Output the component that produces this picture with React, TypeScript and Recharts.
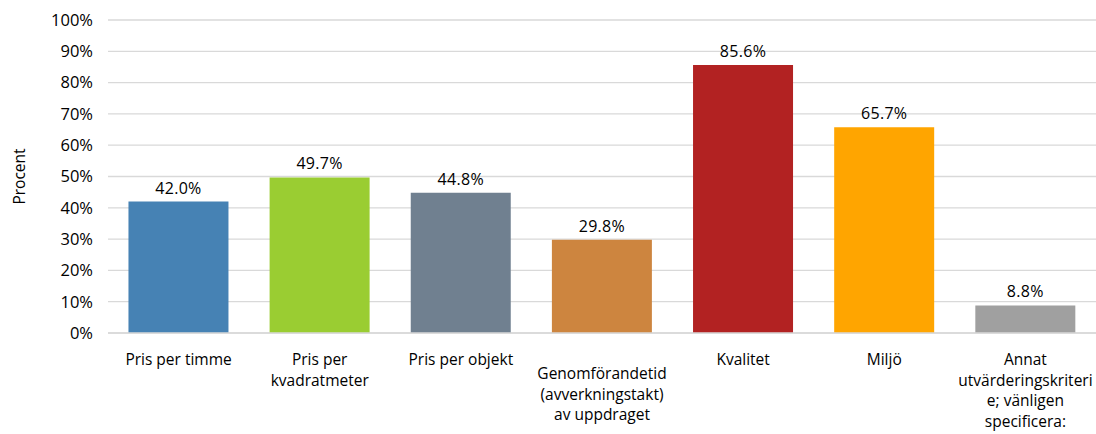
import { BarChart, Bar, XAxis, YAxis, CartesianGrid, Cell, LabelList } from "recharts";

const categories = [
  "Pris per timme",
  "Pris per\nkvadratmeter",
  "Pris per objekt",
  "Genomförandetid\n(avverkningstakt)\nav uppdraget",
  "Kvalitet",
  "Miljö",
  "Annat\nutvärderingskriteri\ne; vänligen\nspecificera:",
];
const values = [42.0, 49.7, 44.8, 29.8, 85.6, 65.7, 8.8];
const barColors = ["#4682B4", "#9ACD32", "#708090", "#CD853F", "#B22222", "#FFA500", "#A0A0A0"];
const yTicks = [0, 10, 20, 30, 40, 50, 60, 70, 80, 90, 100];

const data = categories.map((name, i) => ({ name, value: values[i] }));

const FONT = "'Open Sans', Lato, sans-serif";

function CategoryTick(props: any) {
  const { x, y, payload } = props;
  const lines = String(payload.value).split("\n");
  // the three-line label sits a bit lower than the others
  const shift = lines.length === 3 ? 14 : 0;
  return (
    <text x={x} y={y + shift} textAnchor="middle" fontSize={15.5} fontFamily={FONT} fill="#000">
      {lines.map((line, i) => (
        <tspan key={i} x={x} dy={i === 0 ? "0.8em" : 20.5}>
          {line}
        </tspan>
      ))}
    </text>
  );
}

export default function App() {
  return (
    <div style={{ position: "absolute", left: 0, top: 0, width: 1096, height: 434, background: "#fff" }}>
      <BarChart
        width={1096}
        height={434}
        data={data}
        margin={{ top: 20, right: 0, bottom: 0, left: 0 }}
        barCategoryGap="14.5%"
      >
        <CartesianGrid vertical={false} stroke="#D9D9D9" strokeWidth={1.3} />
        <XAxis
          dataKey="name"
          interval={0}
          height={101}
          tickLine={false}
          axisLine={{ stroke: "#D9D9D9", strokeWidth: 1.3 }}
          tick={<CategoryTick />}
          tickSize={0}
          tickMargin={20}
        />
        <YAxis
          width={108}
          domain={[0, 100]}
          ticks={yTicks}
          interval={0}
          tickFormatter={(v: number) => `${v}%`}
          axisLine={false}
          tickLine={false}
          tickSize={0}
          tickMargin={15}
          tick={{ fontSize: 16.5, fontFamily: FONT, fill: "#000" }}
          label={{
            value: "Procent",
            angle: -90,
            position: "insideLeft",
            offset: 19,
            style: { fontSize: 15.5, fontFamily: FONT, fill: "#000", textAnchor: "middle" },
          }}
        />
        <Bar dataKey="value" isAnimationActive={false}>
          {data.map((d, i) => (
            <Cell key={d.name} fill={barColors[i]} />
          ))}
          <LabelList
            dataKey="value"
            position="top"
            offset={8}
            formatter={(v: number) => `${v.toFixed(1)}%`}
            style={{ fontSize: 16, fontFamily: FONT, fill: "#000", letterSpacing: 0.3 }}
          />
        </Bar>
      </BarChart>
    </div>
  );
}
